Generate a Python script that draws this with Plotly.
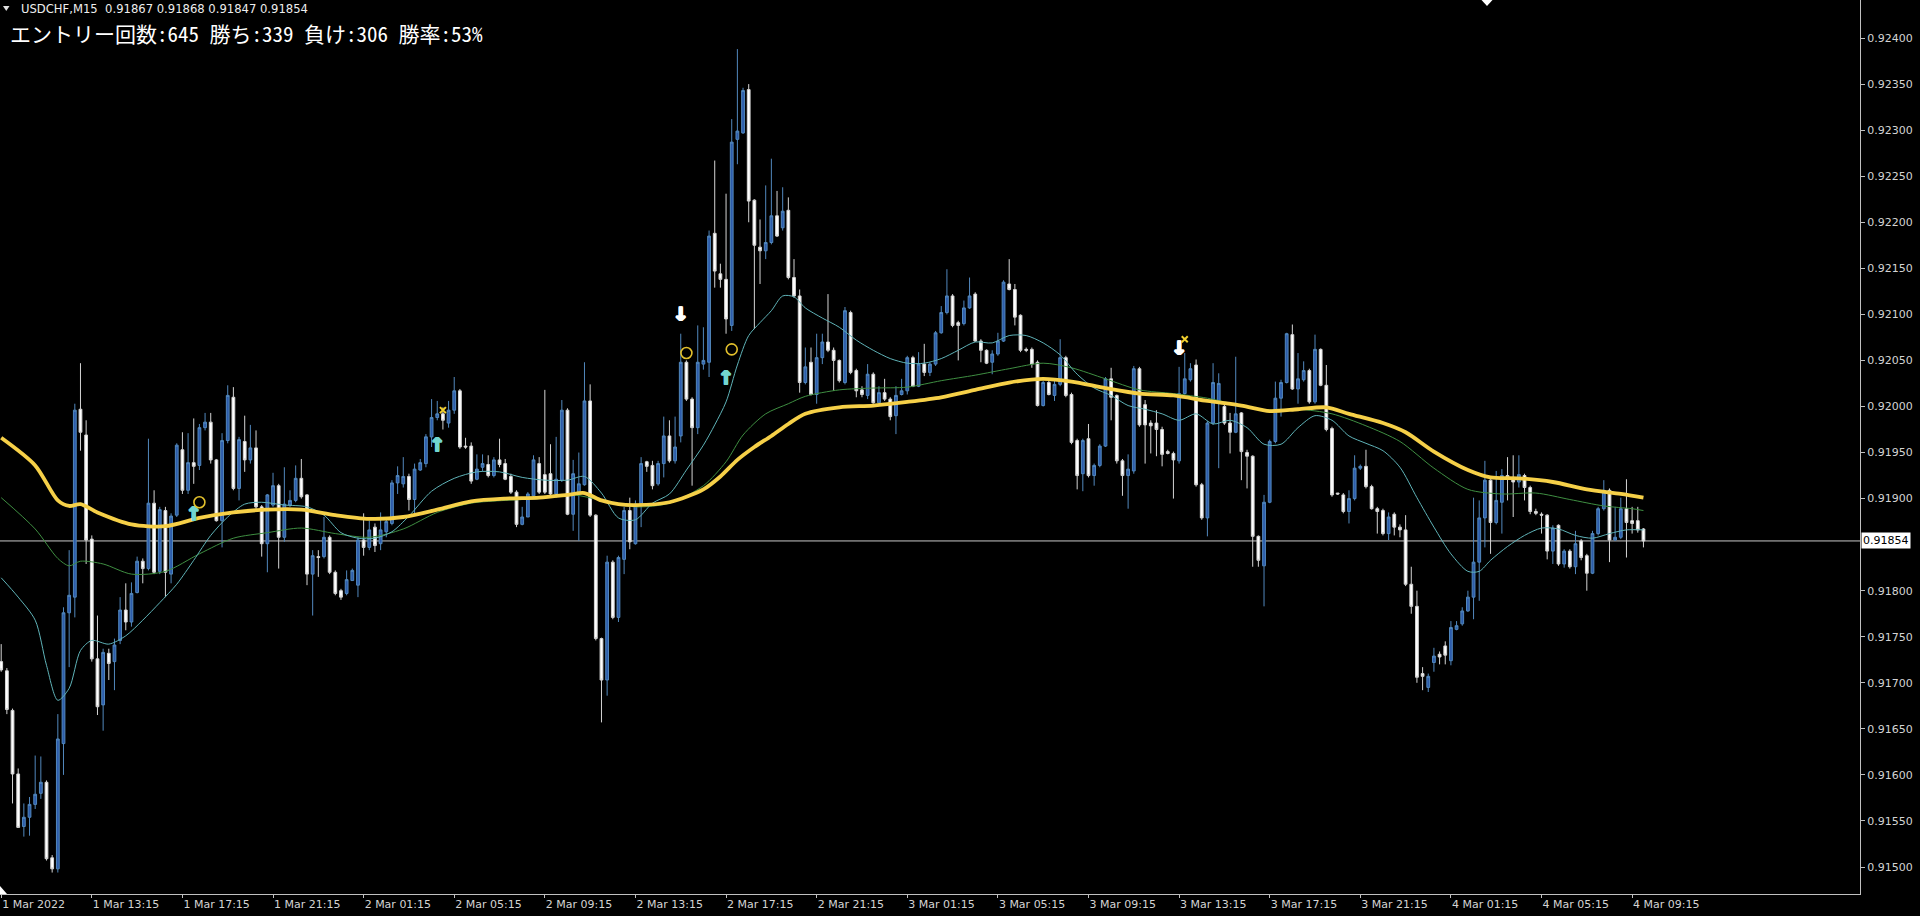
import plotly.graph_objects as go

PT = 1e-5  # prices are stored in points of 0.00001

# ---- USDCHF M15 candles, bar 0 = 1 Mar 2022 09:15 ----
opens = [
91723, 91713, 91670, 91601, 91544, 91554, 91568, 91580, 91592, 91510,
91498, 91634, 91776, 91793, 91997, 91969, 91856, 91726, 91676, 91732,
91723, 91746, 91779, 91766, 91798, 91832, 91824, 91895, 91821, 91887,
91818, 91882, 91953, 91909, 91939, 91936, 91977, 91983, 91942, 91876,
91963, 92010, 91911, 91962, 91942, 91955, 91891, 91851, 91893, 91914,
91858, 91893, 91898, 91922, 91904, 91818, 91837, 91837, 91858, 91820,
91800, 91797, 91811, 91806, 91855, 91847, 91869, 91851, 91864, 91873,
91917, 91916, 91924, 91899, 91931, 91938, 91967, 91988, 91992, 91982,
91996, 92017, 91957, 91957, 91921, 91934, 91937, 91925, 91942, 91938,
91924, 91907, 91872, 91880, 91903, 91938, 91926, 91927, 91905, 91920,
91996, 91883, 91905, 91915, 92006, 91882, 91748, 91703, 91831, 91771,
91834, 91887, 91851, 91894, 91940, 91936, 91916, 91938, 91968, 91941,
91968, 92048, 92008, 91977, 92046, 92048, 92188, 92144, 92138, 92088,
92290, 92297, 92344, 92224, 92173, 92169, 92178, 92207, 92194, 92213,
92140, 92120, 92026, 92048, 92013, 92053, 92070, 92061, 92050, 92026,
92102, 92039, 92018, 92012, 92035, 92004, 92015, 92008, 91990, 92013,
92017, 92053, 92022, 92046, 92037, 92046, 92080, 92102, 92120, 92091,
92090, 92107, 92122, 92071, 92061, 92048, 92057, 92071, 92133, 92127,
92099, 92062, 92062, 92048, 92001, 92026, 92012, 92024, 92053, 92013,
91963, 91927, 91965, 91925, 91936, 91957, 92030, 92012, 91941, 91925,
91930, 92041, 92002, 91982, 91982, 91975, 91951, 91949, 91941, 92014,
92029, 92045, 91915, 91879, 91982, 92005, 92000, 91982, 91972, 91993,
91950, 91946, 91859, 91827, 91896, 91962, 92009, 92026, 92078, 92019,
92029, 92039, 92005, 92062, 92023, 91976, 91906, 91904, 91886, 91900,
91933, 91935, 91913, 91889, 91887, 91862, 91883, 91869, 91866, 91807,
91783, 91710, 91695, 91722, 91731, 91740, 91724, 91758, 91764, 91778,
91793, 91831, 91879, 91920, 91874, 91896, 91925, 91923, 91918, 91925,
91912, 91886, 91883, 91882, 91843, 91871, 91829, 91843, 91826, 91854,
91838, 91819, 91862, 91889, 91909, 91855, 91858, 91889, 91876, 91876,
91867]
highs = [
91742, 91716, 91672, 91607, 91569, 91576, 91621, 91620, 91594, 91513,
91666, 91782, 91844, 92003, 92047, 91985, 91860, 91773, 91737, 91737,
91748, 91793, 91808, 91809, 91837, 91835, 91965, 91909, 91891, 91891,
91884, 91960, 91972, 91971, 91987, 91981, 91993, 91993, 91943, 91971,
92023, 92021, 91967, 91990, 91980, 91974, 91893, 91905, 91928, 91916,
91934, 91909, 91936, 91943, 91905, 91844, 91844, 91880, 91860, 91822,
91802, 91822, 91824, 91858, 91884, 91876, 91873, 91885, 91880, 91920,
91935, 91945, 91927, 91938, 91943, 91970, 92008, 92006, 91999, 92006,
92032, 92019, 91966, 91961, 91948, 91948, 91947, 91945, 91965, 91943,
91927, 91909, 91891, 91907, 91947, 91945, 92018, 91959, 91967, 92007,
91998, 91942, 91950, 92048, 92024, 91883, 91749, 91838, 91833, 91838,
91891, 91901, 91898, 91945, 91941, 91941, 91941, 91989, 91985, 91989,
92079, 92050, 92010, 92088, 92086, 92191, 92267, 92155, 92231, 92312,
92388, 92346, 92350, 92225, 92203, 92240, 92269, 92234, 92238, 92227,
92160, 92127, 92064, 92064, 92079, 92079, 92122, 92064, 92051, 92108,
92104, 92041, 92022, 92046, 92037, 92022, 92030, 92010, 92022, 92030,
92055, 92055, 92059, 92068, 92048, 92082, 92109, 92149, 92122, 92093,
92115, 92140, 92124, 92073, 92062, 92061, 92080, 92137, 92160, 92133,
92100, 92064, 92064, 92050, 92028, 92028, 92028, 92073, 92055, 92015,
91965, 91965, 91981, 91938, 91959, 92032, 92042, 92013, 91943, 91948,
92044, 92043, 92007, 91985, 91996, 91978, 91953, 91951, 92043, 92058,
92047, 92051, 91917, 91984, 92047, 92036, 92002, 91993, 92054, 91994,
91953, 91947, 91860, 91904, 91964, 92027, 92029, 92080, 92089, 92058,
92049, 92041, 92078, 92063, 92045, 91978, 91906, 91906, 91909, 91947,
91937, 91953, 91915, 91891, 91889, 91885, 91885, 91872, 91882, 91826,
91800, 91717, 91710, 91738, 91734, 91745, 91767, 91767, 91782, 91800,
91901, 91898, 91941, 91921, 91930, 91932, 91945, 91947, 91947, 91927,
91914, 91889, 91885, 91883, 91871, 91872, 91845, 91845, 91865, 91856,
91840, 91865, 91891, 91920, 91911, 91891, 91901, 91921, 91891, 91891,
91868]
lows = [
91712, 91666, 91569, 91543, 91533, 91534, 91563, 91574, 91507, 91494,
91494, 91600, 91717, 91771, 91952, 91829, 91723, 91665, 91648, 91703,
91692, 91742, 91757, 91761, 91797, 91808, 91822, 91818, 91818, 91793,
91808, 91880, 91905, 91905, 91916, 91931, 91974, 91938, 91875, 91847,
91960, 91909, 91898, 91929, 91938, 91887, 91837, 91820, 91891, 91824,
91853, 91891, 91896, 91900, 91806, 91773, 91815, 91835, 91818, 91795,
91790, 91795, 91811, 91793, 91838, 91844, 91842, 91844, 91858, 91871,
91905, 91912, 91887, 91883, 91930, 91934, 91956, 91985, 91975, 91977,
91992, 91954, 91954, 91916, 91920, 91930, 91923, 91923, 91934, 91920,
91905, 91869, 91871, 91880, 91901, 91905, 91905, 91901, 91901, 91918,
91882, 91865, 91854, 91914, 91880, 91746, 91657, 91686, 91769, 91766,
91818, 91845, 91850, 91869, 91929, 91910, 91914, 91923, 91939, 91938,
91961, 92006, 91914, 91970, 92040, 92032, 92129, 92129, 92079, 92082,
92263, 92296, 92200, 92084, 92133, 92160, 92176, 92184, 92191, 92138,
92118, 92015, 92024, 92012, 92003, 92046, 92059, 92017, 92026, 92024,
92035, 92010, 92010, 92008, 92003, 92003, 92006, 91985, 91970, 92012,
92013, 92021, 92021, 92033, 92033, 92044, 92079, 92100, 92086, 92050,
92088, 92106, 92070, 92048, 92046, 92035, 92055, 92070, 92126, 92088,
92059, 92059, 92042, 92000, 92000, 92012, 92006, 92022, 92010, 91959,
91910, 91908, 91923, 91914, 91934, 91956, 91985, 91938, 91903, 91889,
91927, 91978, 91938, 91949, 91946, 91935, 91948, 91900, 91938, 92013,
92027, 91913, 91877, 91859, 91980, 91933, 91980, 91949, 91971, 91920,
91911, 91826, 91826, 91783, 91895, 91960, 91989, 92025, 92018, 92003,
92027, 92003, 92003, 92022, 91973, 91902, 91904, 91884, 91873, 91898,
91931, 91911, 91888, 91862, 91860, 91855, 91860, 91858, 91805, 91775,
91700, 91692, 91690, 91712, 91720, 91720, 91719, 91757, 91762, 91777,
91769, 91789, 91847, 91840, 91872, 91862, 91898, 91880, 91912, 91898,
91883, 91882, 91862, 91834, 91829, 91827, 91825, 91824, 91818, 91833,
91800, 91818, 91860, 91887, 91831, 91854, 91856, 91836, 91862, 91863,
91847]
closes = [
91714, 91671, 91601, 91543, 91554, 91568, 91579, 91592, 91509, 91498,
91639, 91776, 91795, 91996, 91972, 91855, 91726, 91674, 91733, 91721,
91741, 91779, 91766, 91797, 91832, 91824, 91895, 91820, 91888, 91820,
91881, 91958, 91909, 91939, 91935, 91977, 91983, 91942, 91876, 91963,
92012, 91911, 91964, 91942, 91955, 91891, 91851, 91904, 91914, 91858,
91894, 91898, 91922, 91902, 91818, 91838, 91836, 91858, 91820, 91797,
91793, 91812, 91822, 91855, 91847, 91866, 91849, 91866, 91875, 91917,
91925, 91924, 91899, 91932, 91939, 91967, 91988, 91992, 91985, 91996,
92017, 91956, 91956, 91919, 91932, 91938, 91925, 91942, 91937, 91921,
91907, 91872, 91880, 91905, 91942, 91907, 91907, 91905, 91921, 91996,
91883, 91927, 91916, 92006, 91882, 91748, 91703, 91831, 91771, 91836,
91887, 91853, 91894, 91938, 91935, 91914, 91938, 91968, 91941, 91956,
92048, 92008, 91977, 92048, 92050, 92185, 92147, 92138, 92095, 92287,
92299, 92343, 92223, 92175, 92169, 92178, 92207, 92185, 92212, 92140,
92120, 92026, 92043, 92013, 92053, 92070, 92061, 92050, 92028, 92104,
92037, 92017, 92013, 92035, 92004, 92015, 92008, 91989, 92012, 92017,
92053, 92022, 92046, 92037, 92046, 92080, 92102, 92120, 92088, 92088,
92107, 92120, 92071, 92061, 92047, 92057, 92071, 92135, 92127, 92097,
92061, 92061, 92046, 92001, 92026, 92013, 92024, 92053, 92012, 91961,
91925, 91963, 91925, 91936, 91957, 92030, 92010, 91941, 91925, 91932,
92041, 91980, 91980, 91979, 91975, 91948, 91949, 91942, 92014, 92030,
92041, 91915, 91879, 91982, 92026, 92025, 91982, 91972, 91992, 91951,
91946, 91859, 91833, 91896, 91962, 92009, 92026, 92079, 92019, 92030,
92039, 92005, 92062, 92023, 91975, 91904, 91905, 91886, 91900, 91933,
91935, 91913, 91889, 91886, 91862, 91880, 91869, 91866, 91807, 91783,
91706, 91707, 91707, 91729, 91728, 91730, 91760, 91762, 91778, 91793,
91831, 91879, 91920, 91874, 91898, 91925, 91923, 91918, 91926, 91912,
91886, 91884, 91882, 91843, 91868, 91829, 91843, 91826, 91851, 91836,
91819, 91862, 91889, 91909, 91855, 91858, 91889, 91874, 91873, 91866,
91854]

# ---- moving averages (bar index, price points) ----
ma_slow_bars = [0, 6, 10, 12, 14, 17, 23, 29, 35, 41, 47, 53, 59, 65, 71, 77, 83, 89, 95, 100,
                103, 106, 109, 112, 118, 124, 127, 130, 133, 136, 139, 142, 148, 154, 160, 166, 172, 178, 184, 189,
                195, 201, 207, 213, 219, 224, 229, 234, 238, 244, 248, 253, 259, 263, 268, 274, 280, 286, 290]
ma_slow = [91966, 91936, 91898, 91892, 91894, 91885, 91872, 91870, 91879, 91885,
           91888, 91888, 91882, 91878, 91880, 91888, 91897, 91900, 91901, 91904,
           91906, 91898, 91894, 91893, 91896, 91910, 91924, 91942, 91956, 91968,
           91981, 91992, 91999, 92001, 92005, 92010, 92018, 92026, 92030, 92027,
           92020, 92014, 92012, 92006, 92001, 91995, 91997, 91999, 91992, 91982,
           91972, 91951, 91931, 91923, 91922, 91918, 91910, 91905, 91901]

ma_fast_bars = [0, 3, 6, 8, 10, 12, 14, 16, 19, 22, 25, 28, 31, 34, 37, 40, 43, 46, 50, 54,
                57, 60, 63, 66, 69, 72, 76, 80, 84, 88, 92, 96, 100, 103, 106, 109, 112, 115, 118, 121,
                124, 126, 128, 130, 132, 134, 136, 138, 140, 142, 145, 148, 151, 154, 157, 160, 163, 166, 169, 172,
                175, 178, 181, 184, 187, 190, 193, 196, 199, 202, 205, 208, 211, 214, 217, 220, 223, 226, 229, 232,
                235, 238, 241, 244, 247, 250, 253, 256, 259, 261, 263, 266, 269, 272, 275, 278, 281, 284, 287, 290]
ma_fast = [91814, 91793, 91768, 91719, 91681, 91694, 91735, 91746, 91742, 91751,
           91768, 91787, 91807, 91833, 91860, 91880, 91894, 91896, 91893, 91891,
           91882, 91863, 91857, 91857, 91864, 91881, 91908, 91922, 91929, 91929,
           91923, 91920, 91920, 91924, 91906, 91879, 91877, 91895, 91905, 91931,
           91958, 91980, 92005, 92045, 92077, 92091, 92104, 92120, 92119, 92107,
           92096, 92086, 92072, 92061, 92052, 92047, 92047, 92052, 92061, 92070,
           92069, 92077, 92077, 92069, 92056, 92035, 92020, 92012, 92001, 91997,
           91992, 91985, 91992, 91981, 91985, 91977, 91959, 91959, 91977, 91990,
           91985, 91968, 91960, 91952, 91934, 91901, 91869, 91840, 91821, 91821,
           91833, 91848, 91860, 91868, 91867, 91860, 91857, 91862, 91866, 91866]

ma_mid_bars = [0, 6, 10, 12, 14, 18, 23, 29, 35, 41, 47, 53, 59, 65, 71, 77, 83, 89, 95, 101,
               106, 112, 118, 124, 128, 131, 135, 139, 142, 148, 154, 160, 166, 172, 178, 184, 189, 195, 201, 207,
               213, 219, 224, 229, 235, 241, 247, 253, 259, 265, 271, 277, 283, 288, 290]
ma_mid = [91901, 91867, 91835, 91827, 91832, 91829, 91818, 91821, 91840, 91857,
          91863, 91868, 91862, 91858, 91867, 91885, 91895, 91898, 91900, 91904,
          91898, 91891, 91895, 91914, 91940, 91969, 91992, 92003, 92011, 92018,
          92020, 92021, 92028, 92034, 92041, 92047, 92042, 92030, 92018, 92014,
          92009, 92001, 91996, 91997, 91992, 91979, 91962, 91933, 91910, 91905,
          91906, 91899, 91892, 91889, 91887]

# ---- signal marks (bar index, price points) ----
buy_arrow_bars = [34, 77, 128]
buy_arrow_prices = [91882, 91957, 92030]
sell_arrow_bars = [120, 208]
sell_arrow_prices = [92099, 92062]
circle_bars = [35, 121, 129]
circle_prices = [91896, 92058, 92062]
cross_bars = [78, 209]
cross_prices = [91996, 92073]

# ---- axis labels ----
label_bars = [0, 16, 32, 48, 64, 80, 96, 112, 128, 144, 160, 176, 192, 208, 224, 240, 256, 272, 288]
time_labels = ["1 Mar 2022", "1 Mar 13:15", "1 Mar 17:15", "1 Mar 21:15", "2 Mar 01:15",
               "2 Mar 05:15", "2 Mar 09:15", "2 Mar 13:15", "2 Mar 17:15", "2 Mar 21:15",
               "3 Mar 01:15", "3 Mar 05:15", "3 Mar 09:15", "3 Mar 13:15", "3 Mar 17:15",
               "3 Mar 21:15", "4 Mar 01:15", "4 Mar 05:15", "4 Mar 09:15"]
price_ticks = [0.91500, 0.91550, 0.91600, 0.91650, 0.91700, 0.91750, 0.91800, 0.91850,
               0.91900, 0.91950, 0.92000, 0.92050, 0.92100, 0.92150, 0.92200, 0.92250,
               0.92300, 0.92350, 0.92400]

symbol = "USDCHF,M15"
entries, wins, losses, win_rate = 645, 339, 306, 53

# ------------------------------------------------------------------
def px(vals):
    return [v * PT for v in vals]

W, H = 1920, 916
MR, MB = 60, 22
PW, PH = W - MR, H - MB          # plot area in pixels
Y_TOP, Y_BOT = 0.924413, 0.914707
X_LO, X_HI = -0.212, 328.24

bars = list(range(len(opens)))
last = closes[-1] * PT
# the current-price box hides the tick label it sits on
shown_ticks = [t for t in price_ticks if abs(t - last) > 0.00015]

fig = go.Figure()

fig.add_trace(go.Candlestick(
    x=bars, open=px(opens), high=px(highs), low=px(lows), close=px(closes),
    increasing=dict(line=dict(color="#5288bd", width=1), fillcolor="#2d5cab"),
    decreasing=dict(line=dict(color="#d4d4d4", width=1), fillcolor="#ffffff"),
    whiskerwidth=0, hoverinfo="skip", showlegend=False))

for b, v, col, w in [(ma_mid_bars, ma_mid, "#3f8f42", 1),
                     (ma_fast_bars, ma_fast, "#5fb3b8", 1),
                     (ma_slow_bars, ma_slow, "#f6d048", 3.8)]:
    fig.add_trace(go.Scatter(x=b, y=px(v), mode="lines",
                             line=dict(color=col, width=w, shape="spline", smoothing=0.8),
                             hoverinfo="skip", showlegend=False))


def thick(col):
    return (f"1px 0px 0px {col}, -1px 0px 0px {col}, 0px 1px 0px {col}, "
            f"1px 1px 0px {col}, -1px 1px 0px {col}")


buy_col, sell_col = "#72d6d0", "#ffffff"
fig.add_trace(go.Scatter(x=buy_arrow_bars, y=px(buy_arrow_prices), mode="text",
                         text=["↑"] * len(buy_arrow_bars),
                         textfont=dict(family="DejaVu Sans", size=19, color=buy_col, weight="bold",
                                       shadow=thick(buy_col)),
                         hoverinfo="skip", showlegend=False))
fig.add_trace(go.Scatter(x=sell_arrow_bars, y=px(sell_arrow_prices), mode="text",
                         text=["↓"] * len(sell_arrow_bars),
                         textfont=dict(family="DejaVu Sans", size=19, color=sell_col, weight="bold",
                                       shadow=thick(sell_col)),
                         hoverinfo="skip", showlegend=False))
fig.add_trace(go.Scatter(x=circle_bars, y=px(circle_prices), mode="markers",
                         marker=dict(symbol="circle-open", size=11, color="#e2c02c",
                                     line=dict(width=1.6, color="#e2c02c")),
                         hoverinfo="skip", showlegend=False))
fig.add_trace(go.Scatter(x=cross_bars, y=px(cross_prices), mode="markers",
                         marker=dict(symbol="x-thin-open", size=6, color="#f2d02e",
                                     line=dict(width=2, color="#f2d02e")),
                         hoverinfo="skip", showlegend=False))

fig.add_shape(type="line", xref="paper", x0=0, x1=1, yref="y", y0=last, y1=last,
              line=dict(color="#c8c8c8", width=1), layer="below")
fig.add_annotation(xref="paper", x=1, xanchor="left", xshift=1, yref="y", y=last,
                   text=f"{last:.5f}", showarrow=False, bgcolor="#ffffff",
                   font=dict(family="DejaVu Sans", size=11, color="#000000"), borderpad=1)

# header texts
def pxx(x):
    return x / PW

def pxy(y):
    return 1 - y / PH

fig.add_shape(type="path", xref="paper", yref="paper",
              path=f"M {pxx(3)} {pxy(6)} L {pxx(9.5)} {pxy(6)} L {pxx(6.25)} {pxy(11)} Z",
              fillcolor="#e0e0e0", line=dict(width=0))
fig.add_annotation(xref="paper", yref="paper", x=pxx(19), y=pxy(9), xanchor="left", yanchor="middle",
                   text=f"{symbol}  {opens[-1]*PT:.5f} {highs[-1]*PT:.5f} {lows[-1]*PT:.5f} {closes[-1]*PT:.5f}",
                   showarrow=False, font=dict(family="DejaVu Sans", size=11.6, color="#eeeeee"))
fig.add_annotation(xref="paper", yref="paper", x=pxx(8), y=pxy(33), xanchor="left", yanchor="middle",
                   text=f"エントリー回数:{entries} 勝ち:{wins} 負け:{losses} 勝率:{win_rate}%",
                   showarrow=False,
                   font=dict(family="Noto Sans Mono CJK JP, Noto Sans CJK JP", size=21, color="#ffffff"))

# MT4 chart markers (shift triangle at top, corner mark at bottom-left)
fig.add_shape(type="path", xref="paper", yref="paper",
              path=f"M {pxx(1481.5)} {pxy(0)} L {pxx(1492.5)} {pxy(0)} L {pxx(1487)} {pxy(6)} Z",
              fillcolor="#ffffff", line=dict(width=0))
fig.add_shape(type="path", xref="paper", yref="paper",
              path=f"M {pxx(0)} {pxy(886)} L {pxx(0)} {pxy(894)} L {pxx(7)} {pxy(894)} Z",
              fillcolor="#ffffff", line=dict(width=0))

axis_font = dict(family="DejaVu Sans", size=11, color="#d4d4d4")
fig.update_layout(
    width=W, height=H,
    margin=dict(l=0, r=MR, t=0, b=MB, pad=0),
    paper_bgcolor="#000000", plot_bgcolor="#000000",
    showlegend=False, hovermode=False,
    xaxis=dict(range=[X_LO, X_HI], tickmode="array", tickvals=label_bars, ticktext=time_labels,
               ticks="outside", ticklen=3, tickcolor="#c0c0c0", tickfont=axis_font,
               ticklabelposition="outside right",
               showline=True, linecolor="#c0c0c0", linewidth=1,
               showgrid=False, zeroline=False, rangeslider=dict(visible=False), fixedrange=True),
    yaxis=dict(side="right", range=[Y_BOT, Y_TOP], tickmode="array", tickvals=shown_ticks,
               ticktext=[f"{t:.5f}" for t in shown_ticks],
               ticks="outside", ticklen=4, tickcolor="#c0c0c0", tickfont=axis_font,
               showline=True, linecolor="#c0c0c0", linewidth=1,
               showgrid=False, zeroline=False, fixedrange=True),
)

fig.write_html("out.html", include_plotlyjs=True, full_html=True,
               config={"displayModeBar": False, "staticPlot": True},
               post_script="document.body.style.margin='0';document.body.style.overflow='hidden';")
